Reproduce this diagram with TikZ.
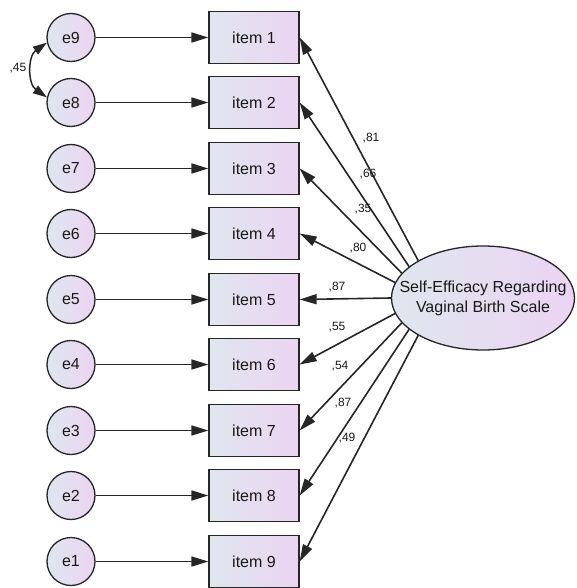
\documentclass[tikz,border=0pt]{standalone}
\usepackage{fontspec}
\setmainfont{Liberation Sans}
\usetikzlibrary{arrows.meta,shapes.geometric}
\definecolor{shadeblue}{HTML}{DFE6EE}
\definecolor{shadepink}{HTML}{EBD4F2}
\tikzset{
  errnode/.style={circle, draw=black!85, line width=1.3pt, minimum size=48pt, inner sep=0pt,
    left color=shadeblue, right color=shadepink, text=black!90, font=\fontsize{16}{18}\selectfont},
  itembox/.style={rectangle, draw=black!85, line width=1.3pt, minimum width=90pt, minimum height=52pt,
    left color=shadeblue, right color=shadepink, text=black!90, font=\fontsize{16}{18}\selectfont},
  latent/.style={ellipse, draw=black!85, line width=1.3pt, minimum width=183pt, minimum height=104pt,
    inner sep=0pt, left color=shadeblue, right color=shadepink},
  link/.style={line width=1.6pt, black!85, -{Triangle[length=17pt,width=10pt]}},
  loadlbl/.style={font=\fontsize{12}{14}\selectfont, text=black!90, inner sep=0pt}
}
\begin{document}
\begin{tikzpicture}[x=1pt, y=-1pt]
  \useasboundingbox (0,0) rectangle (576,588);
  % errors and items
  \foreach \i in {1,...,9} {
    \pgfmathsetmacro\yy{round(36.5+(\i-1)*65.5)+0.5}
    \pgfmathtruncatemacro\ee{10-\i}
    \node[errnode] (e\ee) at (71,\yy) {e\ee};
    \node[itembox] (it\i) at (254,\yy) {item \i};
    \draw[link] (e\ee) -- (it\i);
  }

  % latent factor
  \node[latent] (sevb) at (483,298) {};
  \node[align=center, text=black!90, font=\fontsize{16}{20}\selectfont] (sevbtxt) at (sevb)
    {Self-Efficacy Regarding\\Vaginal Birth Scale};

  % loadings
  \foreach \i/\ang/\lx/\ly/\val in {1/150/371/138/81, 2/157/368/174/66, 3/163/363/209/35,
      4/170/358/248/80, 5/180/337/287/87, 6/190/337/327/55, 7/197/340/366/54,
      8/203/343/403/87, 9/210/347/438/49} {
    \draw[link] (sevb.\ang) -- (it\i.east);
    \node[loadlbl] (w\i) at (\lx,\ly) {,\val};
  }

  % covariance e9 - e8
  \draw[line width=1.5pt, black!85, {Triangle[length=14pt,width=9pt]}-{Triangle[length=14pt,width=9pt]}]
    (e9.192) to[out=215, in=145, looseness=1.1] (e8.168);
  \node[loadlbl] (c98) at (18,68) {,45};
\end{tikzpicture}
\end{document}
